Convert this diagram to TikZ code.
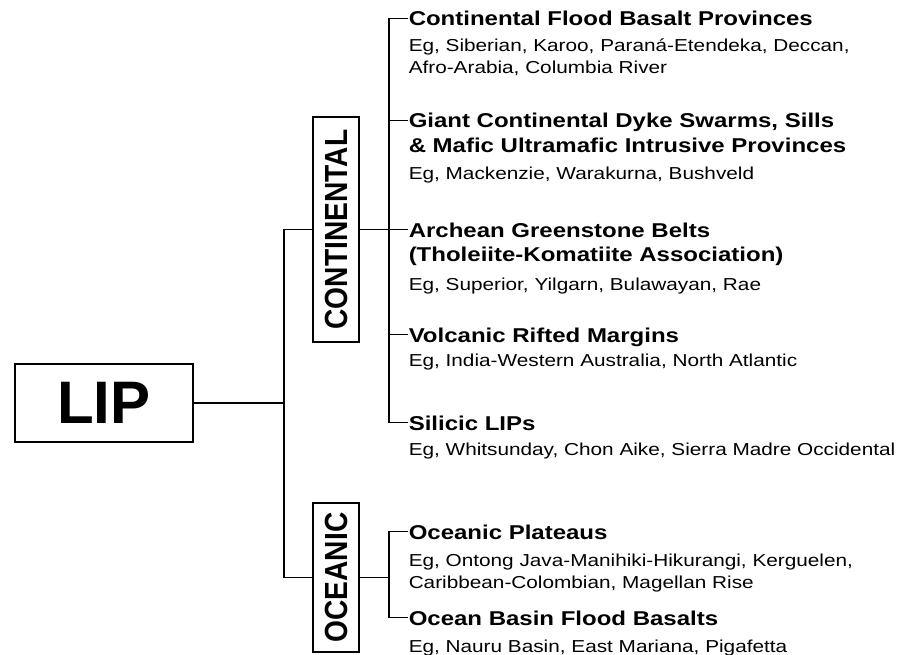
\documentclass[tikz,border=0pt]{standalone}
\usepackage{fontspec}
\setmainfont{Liberation Sans}
\newfontfamily\widefont{Liberation Sans}[FakeStretch=1.2]
\newfontfamily\tallfont{Liberation Sans}[FakeStretch=0.88]

\begin{document}
\begin{tikzpicture}[x=1pt, y=-1pt, line width=1.5pt,
  head/.style={anchor=base west, inner sep=0pt, align=left,
    font=\widefont\bfseries\fontsize{20}{24.5}\selectfont},
  eg/.style={anchor=base west, inner sep=0pt, align=left,
    font=\widefont\fontsize{17.3}{22}\selectfont},
  side/.style={draw, rotate=90, inner sep=0pt, minimum height=46pt,
    font=\tallfont\bfseries\fontsize{32}{32}\selectfont}]
 \useasboundingbox (0,0) rectangle (902,655);

 \node[draw, minimum width=178pt, minimum height=78pt, inner sep=0pt,
   font=\bfseries\fontsize{60}{60}\selectfont] (lip) at (104,403) {LIP};

 \node[side, minimum width=225pt] (cont) at (336,229.5) {CONTINENTAL};
 \node[side, minimum width=149pt] (ocean) at (336,577.5) {OCEANIC};

 % continental provinces (base = last line)
 \node[head] (cfb) at (408,26) {Continental Flood Basalt Provinces};
 \node[eg] (cfbeg) at (408,74) {Eg, Siberian, Karoo, Paraná-Etendeka, Deccan,\\Afro-Arabia, Columbia River};

 \node[head] (gcd) at (408,152.5) {Giant Continental Dyke Swarms, Sills\\\& Mafic Ultramafic Intrusive Provinces};
 \node[eg] (gcdeg) at (408,180) {Eg, Mackenzie, Warakurna, Bushveld};

 \node[head] (agb) at (408,261.5) {Archean Greenstone Belts\\(Tholeiite-Komatiite Association)};
 \node[eg] (agbeg) at (408,290) {Eg, Superior, Yilgarn, Bulawayan, Rae};

 \node[head] (vrm) at (408,342) {Volcanic Rifted Margins};
 \node[eg] (vrmeg) at (408,366) {Eg, India-Western Australia, North Atlantic};

 \node[head] (sil) at (408,430) {Silicic LIPs};
 \node[eg] (sileg) at (408,455) {Eg, Whitsunday, Chon Aike, Sierra Madre Occidental};

 % oceanic provinces
 \node[head] (opl) at (408,539) {Oceanic Plateaus};
 \node[eg] (opleg) at (408,588) {Eg, Ontong Java-Manihiki-Hikurangi, Kerguelen,\\Caribbean-Colombian, Magellan Rise};

 \node[head] (obf) at (408,625) {Ocean Basin Flood Basalts};
 \node[eg] (obfeg) at (408,652) {Eg, Nauru Basin, East Mariana, Pigafetta};

 % tree lines
 \coordinate (fork) at (284,403);
 \coordinate (spine) at (389,0);
 \foreach \n/\up in {cfb/7.5,gcd/32,agb/32,vrm/7.5,sil/7.5,opl/7.5,obf/7.5}
   \coordinate (\n t) at ([yshift=\up pt]\n.base west);

 \draw (lip.east) -- (fork);
 \draw (cont.north) -| (fork) |- (ocean.north);

 \draw (cont.south) -- (agbt);
 \draw (cfbt) -- (cfbt -| spine) -- (silt -| spine) -- (silt);
 \foreach \n in {gcd,vrm}
   \draw (\n t -| spine) -- (\n t);

 \draw (ocean.south) -- (ocean.south -| spine);
 \draw (oplt) -- (oplt -| spine) -- (obft -| spine) -- (obft);
\end{tikzpicture}
\end{document}
